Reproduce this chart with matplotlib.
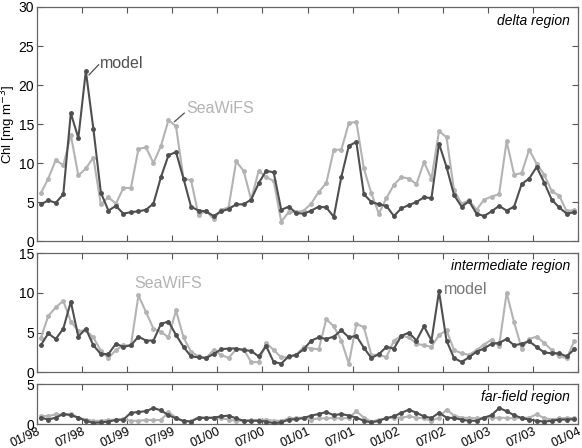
import numpy as np
import matplotlib
matplotlib.use('Agg')
import matplotlib.pyplot as plt

plt.rcParams['font.family'] = ['Liberation Sans', 'DejaVu Sans']

# monthly values, Jan 1998 - Dec 2003 (plotted mid-month)
delta_model = [4.7, 5.2, 4.9, 6.0, 16.4, 13.2, 21.8, 14.4, 6.2, 3.9, 4.5, 3.5,
               3.7, 3.8, 4.0, 4.8, 8.2, 11.0, 11.4, 8.0, 4.4, 3.9, 3.8, 3.2,
               3.8, 4.1, 4.7, 4.7, 5.3, 7.4, 9.0, 8.8, 4.0, 4.4, 3.6, 3.5,
               3.9, 4.4, 4.3, 3.1, 8.2, 12.2, 12.7, 6.0, 5.0, 4.7, 4.5, 3.2,
               4.2, 4.6, 5.0, 5.6, 5.5, 12.5, 9.5, 5.9, 4.4, 5.1, 3.5, 3.2,
               3.8, 4.5, 3.9, 4.4, 7.3, 8.0, 9.5, 7.5, 5.3, 4.3, 3.5, 3.7]
delta_sat = [6.1, 8.0, 10.4, 9.7, 13.6, 8.4, 9.3, 10.7, 4.7, 5.6, 4.8, 6.8,
             6.8, 11.8, 12.0, 10.0, 12.2, 15.5, 14.7, 8.0, 7.8, 3.3, 3.9, 2.8,
             4.0, 4.3, 10.2, 9.0, 5.3, 9.0, 8.2, 7.7, 2.5, 3.7, 3.7, 3.9,
             4.8, 6.3, 7.4, 11.7, 11.7, 15.1, 15.3, 9.3, 6.1, 3.5, 5.5, 7.2,
             8.2, 8.0, 7.3, 10.1, 8.0, 14.1, 13.3, 6.5, 4.8, 5.2, 4.0, 5.3,
             5.7, 6.0, 12.8, 8.5, 8.7, 11.7, 9.9, 8.5, 6.4, 5.8, 3.8, 4.0]

inter_model = [3.4, 4.9, 4.2, 5.5, 8.9, 4.5, 5.5, 3.4, 2.3, 2.3, 3.6, 3.2,
               3.4, 4.5, 4.0, 4.0, 6.1, 6.4, 4.7, 3.2, 2.0, 1.9, 1.8, 2.3,
               2.9, 3.0, 3.0, 2.8, 2.7, 2.0, 3.3, 1.3, 1.1, 2.0, 2.2, 2.9,
               4.0, 4.4, 4.2, 4.5, 5.3, 4.4, 4.6, 3.1, 1.8, 2.3, 3.2, 3.0,
               4.6, 5.0, 4.0, 5.8, 4.0, 10.2, 4.0, 1.8, 1.3, 1.9, 2.6, 3.0,
               3.6, 3.7, 4.2, 3.4, 3.6, 3.9, 3.2, 2.5, 2.4, 2.4, 2.0, 2.9]
inter_sat = [4.3, 7.1, 8.2, 9.0, 6.4, 5.2, 5.3, 4.4, 2.7, 1.8, 2.8, 3.4,
             3.4, 9.7, 7.6, 5.5, 5.1, 4.4, 7.8, 4.4, 2.6, 2.0, 1.8, 2.8,
             2.2, 1.8, 2.9, 2.9, 1.3, 1.3, 3.7, 2.8, 1.9, 1.9, 2.2, 3.2,
             3.0, 2.9, 6.7, 5.8, 4.0, 1.1, 6.1, 5.7, 2.2, 2.2, 1.9, 4.0,
             4.6, 4.4, 3.6, 3.4, 3.2, 4.7, 5.3, 2.8, 2.4, 2.2, 2.8, 3.5,
             4.1, 3.3, 10.0, 6.3, 3.0, 4.2, 4.5, 3.7, 2.8, 2.0, 1.8, 3.9]

far_model = [0.8, 0.55, 0.8, 1.25, 1.1, 0.8, 0.4, 0.15, 0.2, 0.3, 0.5, 0.55,
             1.4, 1.5, 1.6, 2.0, 1.7, 1.1, 0.7, 0.4, 0.3, 0.8, 0.75, 0.8,
             0.95, 1.05, 0.7, 0.4, 0.4, 0.4, 0.3, 0.1, 0.2, 0.55, 0.6, 0.75,
             1.05, 1.25, 1.5, 1.1, 1.25, 1.05, 0.8, 0.4, 0.2, 0.4, 0.75, 0.95,
             1.4, 1.8, 1.4, 0.95, 0.75, 1.4, 0.8, 0.75, 0.55, 0.4, 0.4, 0.8,
             1.1, 2.0, 1.6, 1.1, 0.75, 0.55, 0.4, 0.3, 0.4, 0.55, 0.55, 0.6]
far_sat = [1.0, 1.0, 1.2, 1.2, 1.25, 0.8, 0.55, 0.4, 0.4, 0.5, 0.55, 0.6,
           0.4, 0.4, 0.5, 0.5, 0.5, 1.5, 0.8, 0.3, 0.4, 0.8, 0.8, 0.75,
           0.75, 0.55, 0.4, 0.4, 0.5, 0.5, 0.55, 0.4, 0.4, 0.7, 0.75, 0.8,
           0.55, 0.7, 0.7, 0.75, 0.7, 0.75, 1.6, 0.8, 0.3, 0.55, 0.7, 0.8,
           0.8, 0.95, 0.8, 0.7, 0.4, 0.8, 1.8, 1.05, 0.8, 0.75, 0.7, 0.8,
           0.75, 0.8, 0.75, 0.7, 0.75, 0.8, 1.2, 0.75, 0.55, 0.7, 0.75, 0.75]

tick_labels = ['01/98', '07/98', '01/99', '07/99', '01/00', '07/00', '01/01',
               '07/01', '01/02', '07/02', '01/03', '07/03', '01/04']

c_model = '#4f4f4f'
c_sat = '#b3b3b3'

months = np.arange(len(delta_model)) + 0.5

fig = plt.figure(figsize=(5.82, 4.48), dpi=100)

L, W = 37 / 582.0, 541 / 582.0
ax1 = fig.add_axes([L, 1 - 241 / 448.0, W, 234 / 448.0])
ax2 = fig.add_axes([L, 1 - 372.3 / 448.0, W, 119 / 448.0])
ax3 = fig.add_axes([L, 1 - 424 / 448.0, W, 40 / 448.0])

panels = [(ax1, delta_sat, delta_model, 30, 'delta region', 0.941),
          (ax2, inter_sat, inter_model, 15, 'intermediate region', 0.896),
          (ax3, far_sat, far_model, 5, 'far-field region', 0.675)]

for ax, sat, mod, ymax, name, ty in panels:
    ax.plot(months, sat, '-o', color=c_sat, lw=1.5, ms=2.5, zorder=2)
    ax.plot(months, mod, '-o', color=c_model, lw=1.5, ms=2.5, zorder=3)
    ax.set_xlim(0, 72)
    ax.set_ylim(0, ymax)
    ax.set_yticks(np.arange(0, ymax + 1, 5))
    ax.set_xticks(np.arange(0, 73, 6))
    ax.tick_params(direction='in', top=True, right=True, length=4,
                   labelsize=10, color='#555555', pad=2)
    for s in ax.spines.values():
        s.set_color('#666666')
        s.set_linewidth(0.9)
    ax.text(0.985, ty, name, transform=ax.transAxes, ha='right', va='center',
            style='italic', fontsize=10)
    if ax is ax3:
        ax.set_xticklabels(tick_labels, rotation=25, ha='right', va='top',
                           rotation_mode='anchor', fontsize=9)
        ax.tick_params(axis='x', pad=1)
    else:
        ax.set_xticklabels([])

ax1.set_ylabel('Chl [mg m$^{-3}$]', fontsize=9.5)
ax1.yaxis.set_label_coords(-0.036, 0.5)

# labels on top panel with leader lines
ax1.plot([6.93, 8.2], [21.3, 22.6], color=c_model, lw=0.9)
ax1.text(8.4, 22.7, 'model', color=c_model, fontsize=11.5, va='center')
ax1.plot([18.3, 19.6], [15.3, 16.4], color=c_model, lw=0.9)
ax1.text(19.9, 17.05, 'SeaWiFS', color=c_sat, fontsize=11.5, va='center')

ax2.text(12.9, 11.2, 'SeaWiFS', color=c_sat, fontsize=11.5, va='center')
ax2.text(54.2, 10.5, 'model', color='#777777', fontsize=11.5, va='center')

plt.savefig('out.png', dpi=100)
